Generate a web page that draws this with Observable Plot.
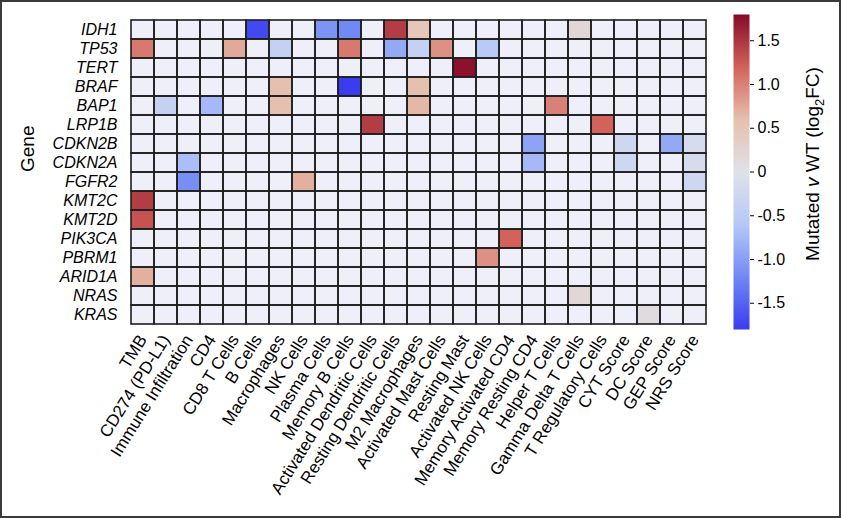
<!DOCTYPE html>
<html>
<head>
<meta charset="utf-8">
<script src="https://cdn.jsdelivr.net/npm/d3@7"></script>
<script src="https://cdn.jsdelivr.net/npm/@observablehq/plot@0.6"></script>
<style>
  html, body { margin: 0; padding: 0; background: #fff; }
  #wrap { position: relative; width: 841px; height: 518px; overflow: hidden; }
  #wrap svg { position: absolute; left: 0; top: 0; }
  #frame { position: absolute; left: 0; top: 0; width: 841px; height: 518px; box-sizing: border-box; border: 2px solid #3a3a3a; pointer-events: none; }
</style>
</head>
<body>
<div id="wrap"><div id="frame"></div></div>
<script>
// Row categories (genes), top to bottom
const genes = ["IDH1", "TP53", "TERT", "BRAF", "BAP1", "LRP1B", "CDKN2B", "CDKN2A",
  "FGFR2", "KMT2C", "KMT2D", "PIK3CA", "PBRM1", "ARID1A", "NRAS", "KRAS"];

// Column categories (immune features), left to right
const features = ["TMB", "CD274 (PD-L1)", "Immune Infiltration", "CD4", "CD8 T Cells", "B Cells",
  "Macrophages", "NK Cells", "Plasma Cells", "Memory B Cells", "Activated Dendritic Cells",
  "Resting Dendritic Cells", "M2 Macrophages", "Activated Mast Cells", "Resting Mast",
  "Activated NK Cells", "Memory Activated CD4", "Memory Resting CD4", "Helper T Cells",
  "Gamma Delta T Cells", "T Regulatory Cells", "CYT Score", "DC Score", "GEP Score", "NRS Score"];

// Significant log2 fold changes (mutated v WT): [gene, feature, value]
const effects = [
  ["IDH1", "B Cells", -1.7], ["IDH1", "Plasma Cells", -1.1], ["IDH1", "Memory B Cells", -1.2],
  ["IDH1", "Resting Dendritic Cells", 1.45], ["IDH1", "M2 Macrophages", 0.5], ["IDH1", "Gamma Delta T Cells", 0.2],
  ["TP53", "TMB", 1.05], ["TP53", "CD8 T Cells", 0.75], ["TP53", "Macrophages", -0.4],
  ["TP53", "Memory B Cells", 1.05], ["TP53", "Resting Dendritic Cells", -0.9], ["TP53", "M2 Macrophages", -0.4],
  ["TP53", "Activated Mast Cells", 0.9], ["TP53", "Activated NK Cells", -0.55],
  ["TERT", "Resting Mast", 1.75],
  ["BRAF", "Macrophages", 0.6], ["BRAF", "Memory B Cells", -1.8], ["BRAF", "M2 Macrophages", 0.6],
  ["BAP1", "CD274 (PD-L1)", -0.4], ["BAP1", "CD4", -0.75], ["BAP1", "Macrophages", 0.6],
  ["BAP1", "M2 Macrophages", 0.65], ["BAP1", "Helper T Cells", 1.0],
  ["LRP1B", "Activated Dendritic Cells", 1.45], ["LRP1B", "T Regulatory Cells", 1.2],
  ["CDKN2B", "Memory Resting CD4", -0.95], ["CDKN2B", "CYT Score", -0.25], ["CDKN2B", "GEP Score", -0.9],
  ["CDKN2B", "NRS Score", -0.15],
  ["CDKN2A", "Immune Infiltration", -0.7], ["CDKN2A", "Memory Resting CD4", -0.75], ["CDKN2A", "CYT Score", -0.25],
  ["CDKN2A", "NRS Score", -0.15],
  ["FGFR2", "Immune Infiltration", -1.15], ["FGFR2", "NK Cells", 0.7], ["FGFR2", "NRS Score", -0.25],
  ["KMT2C", "TMB", 1.45], ["KMT2D", "TMB", 1.3],
  ["PIK3CA", "Memory Activated CD4", 1.2],
  ["PBRM1", "Activated NK Cells", 0.9],
  ["ARID1A", "TMB", 0.7],
  ["NRAS", "Gamma Delta T Cells", 0.2],
  ["KRAS", "DC Score", 0.12]
];

// Colour bar ticks
const colorTicks = [-1.5, -1.0, -0.5, 0, 0.5, 1.0, 1.5];

const colorScale = {
  type: "linear",
  domain: [-1.8, -1.2, -0.6, 0, 0.6, 1.2, 1.8],
  range: ["#3a3cf0", "#7189f4", "#b7c8f8", "#dfe2ea", "#e6c0ae", "#d2625a", "#870a28"],
  clamp: true
};

const font = "'Liberation Sans', Arial, Helvetica, sans-serif";
const grid = d3.cross(genes, features);

const main = Plot.plot({
  width: 841,
  height: 518,
  marginLeft: 123,
  marginRight: 128,
  marginTop: 14,
  marginBottom: 189,
  style: { fontFamily: font, fontSize: "16px", color: "#000", background: "transparent", overflow: "visible" },
  x: { domain: features, padding: 0 },
  y: { domain: genes, padding: 0 },
  color: colorScale,
  marks: [
    Plot.cell(grid, { x: d => d[1], y: d => d[0], fill: "#eeeff9", inset: 0 }),
    Plot.cell(effects, { x: d => d[1], y: d => d[0], fill: d => d[2], inset: 0 }),
    Plot.cell(grid, { x: d => d[1], y: d => d[0], fill: "none", stroke: "#1e1e1e", strokeWidth: 1.6, inset: 0 }),
    Plot.axisX({ tickRotate: -58, tickSize: 0, tickPadding: 7, label: null, fontSize: 17 }),
    Plot.axisY({ tickSize: 0, tickPadding: 6, label: null, fontStyle: "italic", fontSize: 16 }),
    Plot.text(["Gene"], { frameAnchor: "left", rotate: -90, dx: -96, fontSize: 19, fill: "#000" })
  ]
});

const cbar = Plot.plot({
  width: 841,
  height: 518,
  marginLeft: 733,
  marginRight: 92,
  marginTop: 14,
  marginBottom: 189,
  style: { fontFamily: font, fontSize: "16px", color: "#000", background: "transparent", overflow: "visible" },
  x: { domain: [0, 1], axis: null },
  y: { domain: [-1.8, 1.8], axis: null },
  color: colorScale,
  marks: [
    Plot.raster({ fill: (x, y) => y, x1: 0, x2: 1, y1: -1.8, y2: 1.8, width: 1, height: 400, imageRendering: "auto" }),
    Plot.axisY({ anchor: "right", ticks: colorTicks, tickSize: 4, tickPadding: 4, label: null, fontSize: 16,
      tickFormat: d => d === 0 ? "0" : d.toFixed(1) })
  ]
});

const wrap = document.getElementById("wrap");
wrap.insertBefore(cbar, wrap.firstChild);
wrap.insertBefore(main, wrap.firstChild);

// Colour bar title with italic "v" and subscript 2
const t = d3.select(cbar).append("text")
  .attr("transform", "translate(819,164) rotate(-90)")
  .attr("text-anchor", "middle")
  .attr("fill", "#000")
  .style("font-family", font)
  .style("font-size", "19px");
t.append("tspan").text("Mutated ");
t.append("tspan").attr("font-style", "italic").text("v");
t.append("tspan").text(" WT (log");
t.append("tspan").attr("font-size", "13px").attr("dy", 5).text("2");
t.append("tspan").attr("dy", -5).text("FC)");
</script>
</body>
</html>
